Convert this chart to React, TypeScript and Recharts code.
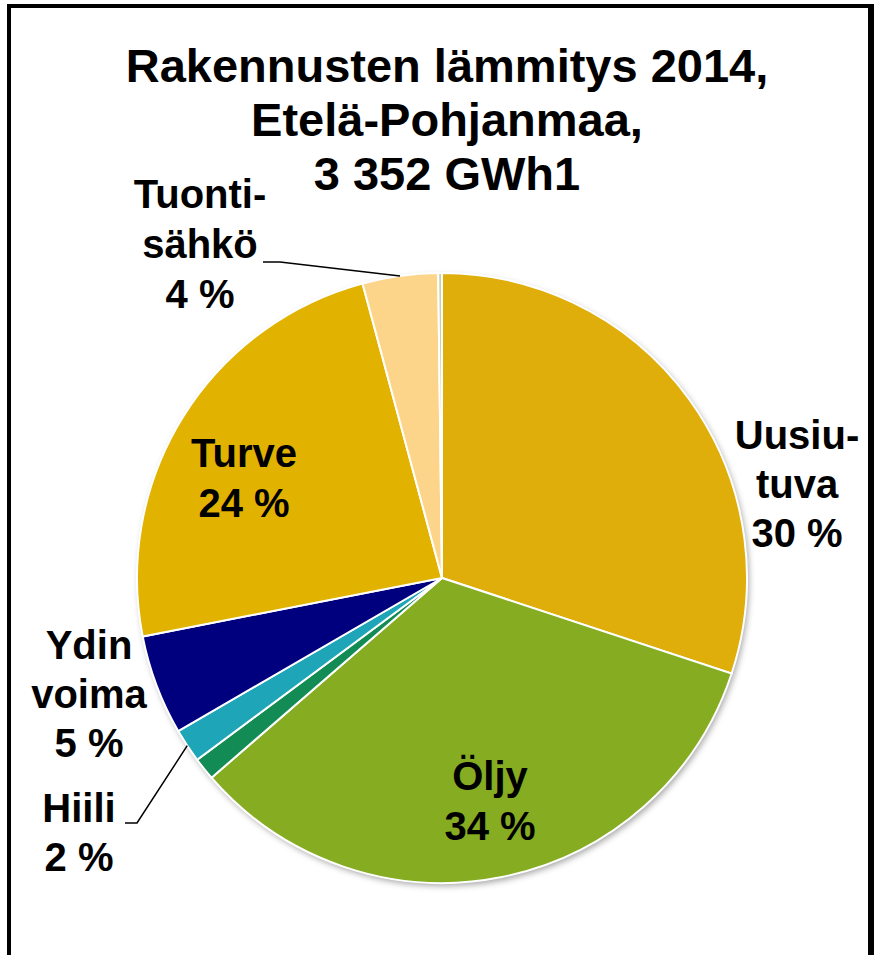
import { Cell, Pie, PieChart } from 'recharts';

// Energy sources, clockwise from 12 o'clock
const sources = ['Uusiutuva', 'Öljy', 'Muu', 'Hiili', 'Ydinvoima', 'Turve', 'Tuontisähkö', 'Muut'];
const shares = [30.1, 33.6, 1.2, 1.8, 5.3, 23.9, 4.0, 0.2];
const pctLabels = ['30 %', '34 %', '', '2 %', '5 %', '24 %', '4 %', ''];
const nameLines = [['Uusiu-', 'tuva'], ['Öljy'], [], ['Hiili'], ['Ydin', 'voima'], ['Turve'], ['Tuonti-', 'sähkö'], []];
const colors = ['#DFAE0A', '#86AC21', '#138B55', '#1FA5B8', '#00007F', '#E2B200', '#FDD58A', '#C9CFA8'];
const titleLines = ['Rakennusten lämmitys 2014,', 'Etelä-Pohjanmaa,', '3 352 GWh1'];

const data = sources.map((name, i) => ({ name, value: shares[i] }));

// label placement relative to pie centre: x, first baseline, line gap, leader start points
const labelLayout: { x: number; y: number; gap: number; leader?: [number, number][] }[] = [
  { x: 355, y: -129, gap: 49 },
  { x: 48, y: 212, gap: 50 },
  { x: 0, y: 0, gap: 0 },
  { x: -363, y: 244, gap: 49, leader: [[-317, 245], [-305, 245]] },
  { x: -353, y: 81, gap: 49 },
  { x: -198, y: -111, gap: 50 },
  { x: -242, y: -370, gap: 50, leader: [[-179, -316], [-162, -316]] },
  { x: 0, y: 0, gap: 0 },
];

const FONT = '"Liberation Sans", Arial, sans-serif';
const RAD = Math.PI / 180;

function renderLabel(props: any) {
  const { cx, cy, midAngle, outerRadius, index } = props;
  const lay = labelLayout[index];
  const lines = [...nameLines[index], pctLabels[index]].filter((s) => s !== '');
  if (!lines.length) return null;
  let leader = null;
  if (lay.leader) {
    const ex = cx + outerRadius * Math.cos(-midAngle * RAD);
    const ey = cy + outerRadius * Math.sin(-midAngle * RAD);
    const pts = [...lay.leader.map(([x, y]) => `${cx + x},${cy + y}`), `${ex},${ey}`].join(' ');
    leader = <polyline points={pts} fill="none" stroke="#000" strokeWidth={1.5} />;
  }
  return (
    <g key={`lbl-${index}`}>
      {leader}
      <text
        x={cx + lay.x}
        y={cy + lay.y}
        textAnchor="middle"
        fontFamily={FONT}
        fontWeight="bold"
        fontSize={40}
        fill="#000"
      >
        {lines.map((l, i) => (
          <tspan key={i} x={cx + lay.x} y={cy + lay.y + i * lay.gap}>
            {l}
          </tspan>
        ))}
      </text>
    </g>
  );
}

export default function App() {
  return (
    <div
      style={{
        position: 'absolute',
        left: 0,
        top: 0,
        width: 877,
        height: 955,
        overflow: 'hidden',
        background: '#fff',
      }}
    >
      <div
        style={{
          position: 'absolute',
          left: 7,
          top: 4,
          width: 857,
          height: 1000,
          border: '4px solid #000',
          borderRightWidth: 6,
        }}
      />
      <svg width={877} height={955} style={{ position: 'absolute', left: 0, top: 0 }}>
        <defs>
          <filter id="pieShadow" x="-10%" y="-10%" width="120%" height="120%">
            <feGaussianBlur stdDeviation="3" />
          </filter>
        </defs>
        <circle cx={444} cy={581} r={305} fill="rgba(0,0,0,0.35)" filter="url(#pieShadow)" />
      </svg>
      <div style={{ position: 'absolute', left: 0, top: 0 }}>
        <PieChart width={877} height={955} margin={{ top: 0, right: 0, bottom: 0, left: 0 }}>
          <Pie
            data={data}
            dataKey="value"
            nameKey="name"
            cx={442}
            cy={578}
            outerRadius={305}
            startAngle={90}
            endAngle={-270}
            stroke="#fff"
            strokeWidth={2}
            label={renderLabel}
            labelLine={false}
            isAnimationActive={false}
          >
            {data.map((d, i) => (
              <Cell key={d.name} fill={colors[i]} />
            ))}
          </Pie>
        </PieChart>
      </div>
      <svg width={877} height={220} style={{ position: 'absolute', left: 0, top: 0 }}>
        {titleLines.map((t, i) => (
          <text
            key={t}
            x={447}
            y={82 + i * 54}
            textAnchor="middle"
            fontFamily={FONT}
            fontWeight="bold"
            fontSize={47}
            fill="#000"
          >
            {t}
          </text>
        ))}
      </svg>
    </div>
  );
}
